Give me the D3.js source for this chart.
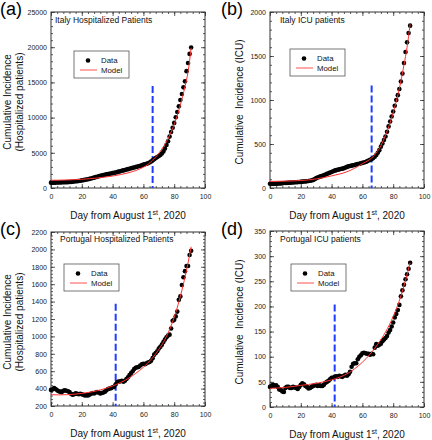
<!DOCTYPE html>
<html><head><meta charset="utf-8">
<script src="https://cdn.jsdelivr.net/npm/d3@7"></script>
<style>body{margin:0;background:#fff;} svg text{font-family:"Liberation Sans",Arial,sans-serif;}</style>
</head><body><svg id="c" width="432" height="440"></svg>
<script>
// ---------- DATA ----------
const days = [0,1,2,3,4,5,6,7,8,9,10,11,12,13,14,15,16,17,18,19,20,21,22,23,24,25,26,27,28,29,
  30,31,32,33,34,35,36,37,38,39,40,41,42,43,44,45,46,47,48,49,50,51,52,53,54,55,56,57,58,59,
  60,61,62,63,64,65,66,67,68,69,70,71,72,73,74,75,76,77,78,79,80,81,82,83,84,85,86,87,88,89,90,91];

const xTickLabels = [0,20,40,60,80,100];

// (a) Italy hospitalized
const itHospData = [760,750,760,770,780,790,800,800,810,810,
  830,840,860,870,890,920,950,970,1000,1030,
  1080,1120,1160,1200,1250,1300,1360,1420,1480,1540,
  1600,1660,1720,1780,1840,1890,1940,1990,2030,2070,
  2110,2160,2210,2260,2320,2380,2440,2500,2560,2620,
  2680,2740,2800,2860,2920,2980,3040,3100,3160,3220,
  3320,3380,3440,3520,3620,3760,3950,4100,4250,4400,
  4550,4690,4900,5200,5600,6100,6650,7300,7950,8550,
  9250,10050,10800,11600,12500,13350,14300,15150,16600,17750,
  19050,19950];
const itHospModelDays = [0,5,10,15,20,25,30,35,40,45,50,55,60,63,66,69,72,75,78,81,84,87,89,91];
const itHospModel = [1100,1110,1140,1180,1240,1320,1420,1550,1700,1900,2150,2480,2950,3350,3950,4650,5550,6600,7950,9650,11800,14400,16500,19900];
const itHospYTicks = [0,5000,10000,15000,20000,25000];

// (b) Italy ICU
const itIcuData = [48,47,47,48,49,50,51,52,54,56,
  57,58,60,61,62,63,65,66,67,69,
  70,72,74,75,77,79,82,86,92,100,
  112,120,126,132,138,145,153,161,168,175,
  182,190,197,203,208,212,216,220,225,232,
  240,246,250,254,258,262,268,272,276,280,
  285,290,295,303,312,320,330,340,355,375,
  400,430,470,505,545,585,640,700,755,812,
  870,935,1000,1055,1125,1210,1300,1420,1545,1655,
  1760,1845];
const itIcuModelDays = [0,10,20,30,40,50,55,60,63,66,69,72,75,78,81,84,87,89,91];
const itIcuModel = [75,78,85,103,138,185,225,275,305,340,400,480,600,740,920,1130,1400,1600,1860];
const itIcuYTicks = [0,500,1000,1500,2000];

// (c) Portugal hospitalized
const ptHospData = [385,390,405,395,380,370,365,360,375,380,
  375,370,360,340,330,335,345,340,335,340,
  335,330,320,325,320,330,340,350,345,355,
  360,355,345,350,355,365,380,395,400,405,
  415,420,450,475,480,485,490,480,490,510,
  530,555,580,600,625,640,645,650,665,680,
  685,680,690,700,705,720,750,790,810,830,
  860,880,905,935,965,990,1010,1020,1090,1180,
  1190,1230,1285,1420,1460,1590,1680,1750,1810,1810,
  1935,1985];
const ptHospModelDays = [0,5,10,15,20,25,30,35,40,45,50,55,60,65,70,75,80,85,88,91];
const ptHospModel = [330,328,330,335,345,358,375,400,430,468,515,575,645,735,850,1000,1220,1530,1760,2030];
const ptHospYTicks = [200,400,600,800,1000,1200,1400,1600,1800,2000,2200];

// (d) Portugal ICU
const ptIcuData = [40,42,44,42,43,40,35,34,31,30,
  38,40,40,38,38,40,39,38,36,40,
  44,47,45,42,40,37,38,40,42,43,
  44,42,43,42,42,44,48,50,52,55,
  58,58,60,61,60,62,61,60,62,64,
  62,65,70,80,86,87,87,95,100,103,
  107,108,107,106,106,104,106,105,118,125,
  122,124,126,131,134,137,141,148,153,160,
  168,178,185,193,203,220,232,243,254,264,
  275,287];
const ptIcuModelDays = [0,10,20,30,40,45,50,55,60,65,70,75,80,85,88,91];
const ptIcuModel = [37,39,43,47,54,59,66,76,89,105,125,149,180,221,252,287];
const ptIcuYTicks = [0,50,100,150,200,250,300,350];

// ---------- PANELS ----------
const panels = [
  {letter:"(a)", lx:0, ly:15, title:"Italy Hospitalized Patients", tx:55, ty:23,
   left:51, right:205, top:12, bottom:188, yDomain:[0,25000], yTicks:itHospYTicks, yMinor:1000,
   data:itHospData, mDays:itHospModelDays, model:itHospModel, cut:66, cutTop:14500,
   leg:{x:74, y:51}, yTitle:["Cumulative Incidence","(Hospitalized patients)"], ytx:[11,23], yty:102},
  {letter:"(b)", lx:221, ly:15, title:"Italy ICU patients", tx:280, ty:23,
   left:270, right:424, top:12, bottom:188, yDomain:[0,2000], yTicks:itIcuYTicks, yMinor:100,
   data:itIcuData, mDays:itIcuModelDays, model:itIcuModel, cut:66, cutTop:1165,
   leg:{x:290, y:49}, yTitle:["Cumulative  Incidence (ICU)"], ytx:[243], yty:102},
  {letter:"(c)", lx:0, ly:235, title:"Portugal Hospitalized Patients", tx:60, ty:242,
   left:51, right:205, top:232, bottom:406, yDomain:[200,2200], yTicks:ptHospYTicks, yMinor:40,
   data:ptHospData, mDays:ptHospModelDays, model:ptHospModel, cut:42, cutTop:1375,
   leg:{x:64, y:264}, yTitle:["Cumulative Incidence","(Hospitalized patients)"], ytx:[11,23], yty:322},
  {letter:"(d)", lx:221, ly:235, title:"Portugal ICU patients", tx:280, ty:242,
   left:270, right:424, top:231, bottom:407, yDomain:[0,350], yTicks:ptIcuYTicks, yMinor:10,
   data:ptIcuData, mDays:ptIcuModelDays, model:ptIcuModel, cut:42, cutTop:204,
   leg:{x:291, y:264}, yTitle:["Cumulative  Incidence (ICU)"], ytx:[243], yty:322}
];

const svg = d3.select("#c");
const FRAME = "#333";

function styleAxis(sel, labels){
  sel.select(".domain").remove();
  sel.selectAll(".tick line").attr("stroke", FRAME).attr("stroke-width", 0.8);
  sel.selectAll("text").attr("font-size", 7).attr("fill", "#222")
     .attr("font-family", "Liberation Sans, Arial, sans-serif");
  if(!labels) sel.selectAll("text").remove();
}

function drawPanel(p){
  const g = svg.append("g");
  const x = d3.scaleLinear().domain([0,100]).range([p.left, p.right]);
  const y = d3.scaleLinear().domain(p.yDomain).range([p.bottom, p.top]);
  const xMinor = d3.range(0, 100.001, 4);
  const yMinor = d3.range(p.yDomain[0], p.yDomain[1] + 0.001, p.yMinor);

  // minor ticks (all four sides)
  g.append("g").attr("transform",`translate(0,${p.bottom})`).call(d3.axisBottom(x).tickValues(xMinor).tickSize(-2).tickFormat("")).call(s=>styleAxis(s,false));
  g.append("g").attr("transform",`translate(0,${p.top})`).call(d3.axisTop(x).tickValues(xMinor).tickSize(-2).tickFormat("")).call(s=>styleAxis(s,false));
  g.append("g").attr("transform",`translate(${p.left},0)`).call(d3.axisLeft(y).tickValues(yMinor).tickSize(-2).tickFormat("")).call(s=>styleAxis(s,false));
  g.append("g").attr("transform",`translate(${p.right},0)`).call(d3.axisRight(y).tickValues(yMinor).tickSize(-2).tickFormat("")).call(s=>styleAxis(s,false));
  // major ticks
  g.append("g").attr("transform",`translate(0,${p.bottom})`).call(d3.axisBottom(x).tickValues(xTickLabels).tickSize(-4).tickPadding(6).tickFormat(d3.format("d"))).call(s=>styleAxis(s,true));
  g.append("g").attr("transform",`translate(0,${p.top})`).call(d3.axisTop(x).tickValues(xTickLabels).tickSize(-4)).call(s=>styleAxis(s,false));
  g.append("g").attr("transform",`translate(${p.left},0)`).call(d3.axisLeft(y).tickValues(p.yTicks).tickSize(-4).tickPadding(4).tickFormat(d3.format("d"))).call(s=>styleAxis(s,true));
  g.append("g").attr("transform",`translate(${p.right},0)`).call(d3.axisRight(y).tickValues(p.yTicks).tickSize(-4)).call(s=>styleAxis(s,false));

  // frame
  g.append("rect").attr("x",p.left).attr("y",p.top).attr("width",p.right-p.left).attr("height",p.bottom-p.top)
    .attr("fill","none").attr("stroke",FRAME).attr("stroke-width",1);

  // dashed cut line
  g.append("line").attr("x1",x(p.cut)).attr("x2",x(p.cut)).attr("y1",y(p.cutTop)).attr("y2",p.bottom)
    .attr("stroke","#1f3cff").attr("stroke-width",2).attr("stroke-dasharray","7,3");

  // data points
  g.append("g").selectAll("circle").data(p.data).join("circle")
    .attr("cx",(d,i)=>x(days[i])).attr("cy",d=>y(d)).attr("r",2.3).attr("fill","#000");

  // model line
  const line = d3.line().x((d,i)=>x(p.mDays[i])).y(d=>y(d)).curve(d3.curveMonotoneX);
  g.append("path").datum(p.model).attr("d",line).attr("fill","none").attr("stroke","#ff3030").attr("stroke-width",1);

  // legend
  const L = p.leg;
  g.append("rect").attr("x",L.x).attr("y",L.y).attr("width",55).attr("height",27).attr("fill","#fff").attr("stroke","#555").attr("stroke-width",0.8);
  g.append("circle").attr("cx",L.x+14).attr("cy",L.y+9.5).attr("r",2.3).attr("fill","#000");
  g.append("text").attr("x",L.x+27).attr("y",L.y+12.3).attr("font-size",7.8).attr("fill","#111").text("Data");
  g.append("line").attr("x1",L.x+6).attr("x2",L.x+23).attr("y1",L.y+19).attr("y2",L.y+19).attr("stroke","#ff5050").attr("stroke-width",1);
  g.append("text").attr("x",L.x+27).attr("y",L.y+21.8).attr("font-size",7.8).attr("fill","#111").text("Model");

  // title
  g.append("text").attr("x",p.tx).attr("y",p.ty).attr("font-size",8.5).attr("fill","#111").text(p.title);
  // panel letter
  g.append("text").attr("x",p.lx).attr("y",p.ly).attr("font-size",18).attr("fill","#000").text(p.letter);

  // y title
  p.yTitle.forEach((t,i)=>{
    g.append("text").attr("transform",`translate(${p.ytx[i]},${p.yty}) rotate(-90)`)
      .attr("text-anchor","middle").attr("font-size",10).attr("fill","#111").style("white-space","pre").text(t);
  });

  // x title
  const xt = g.append("text").attr("x",(p.left+p.right)/2).attr("y",p.bottom+31)
    .attr("text-anchor","middle").attr("font-size",10).attr("fill","#111");
  xt.append("tspan").text("Day from August 1");
  xt.append("tspan").attr("font-size",7).attr("dy",-4).text("st");
  xt.append("tspan").attr("dy",4).text(", 2020");
}

panels.forEach(drawPanel);
</script>
</body></html>
